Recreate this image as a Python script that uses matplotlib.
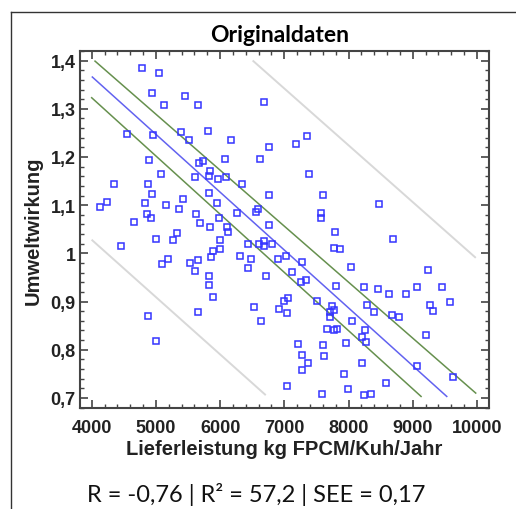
import matplotlib
matplotlib.use("Agg")
from matplotlib import pyplot as plt
from matplotlib.lines import Line2D
from matplotlib.ticker import MultipleLocator, FuncFormatter
import numpy as np

# Lieferleistung (kg FPCM/Kuh/Jahr) and Umweltwirkung
milk = [4784, 5044, 4935, 5454, 5661, 5132, 6679, 4550, 4950, 5391,
        5516, 5807, 6165, 7349, 7188, 6767, 4893, 5672, 5734, 6077,
        6622, 5085, 7390, 5838, 5604, 5822, 5968, 6098, 6336, 4348,
        4883, 5822, 4935, 6767, 7603, 4130, 4244, 4826, 5153, 5428,
        5366, 5952, 6259, 8476, 6555, 6591, 4862, 4929, 5625, 5682,
        5989, 4659, 7567, 7567, 6757, 5843, 6113, 6118, 7785, 5334,
        5007, 5262, 6004, 8699, 4462, 6440, 6606, 6679, 6679, 6809,
        7769, 7873, 5994, 5895, 5859, 6316, 6477, 7027, 6902, 5189,
        5090, 5532, 5661, 5604, 6440, 8039, 9244, 5822, 6715, 7115,
        7271, 5822, 7806, 8242, 8465, 8626, 8891, 9062, 9457, 7333,
        7255, 5895, 7063, 7001, 7515, 7749, 8294, 9275, 9581, 9311,
        6529, 6918, 7037, 7707, 7769, 7707, 8403, 8673, 8787, 5656,
        4883, 6638, 8060, 7660, 7769, 7826, 8258, 9202, 8216, 8278,
        5007, 7219, 7603, 7967, 7271, 7624, 7370, 8205, 7271, 7930,
        9073, 9623, 7037, 7988, 8585, 7588, 8242, 8346]
impact = [1.384, 1.374, 1.332, 1.326, 1.307, 1.308, 1.315, 1.248, 1.246, 1.251,
          1.236, 1.253, 1.236, 1.244, 1.226, 1.221, 1.193, 1.187, 1.192, 1.195,
          1.195, 1.165, 1.165, 1.170, 1.159, 1.161, 1.154, 1.159, 1.143, 1.143,
          1.143, 1.126, 1.124, 1.122, 1.122, 1.097, 1.107, 1.105, 1.100, 1.113,
          1.093, 1.105, 1.084, 1.102, 1.086, 1.092, 1.081, 1.074, 1.081, 1.064,
          1.074, 1.066, 1.083, 1.073, 1.059, 1.055, 1.055, 1.044, 1.044, 1.042,
          1.030, 1.027, 1.027, 1.030, 1.015, 1.020, 1.020, 1.025, 1.015, 1.020,
          1.012, 1.010, 1.008, 1.004, 0.993, 0.995, 0.988, 0.995, 0.988, 0.988,
          0.978, 0.979, 0.986, 0.964, 0.969, 0.971, 0.966, 0.954, 0.954, 0.962,
          0.982, 0.935, 0.933, 0.930, 0.925, 0.916, 0.916, 0.930, 0.930, 0.945,
          0.940, 0.910, 0.908, 0.902, 0.902, 0.891, 0.893, 0.893, 0.900, 0.881,
          0.889, 0.884, 0.877, 0.879, 0.882, 0.867, 0.878, 0.872, 0.867, 0.879,
          0.870, 0.860, 0.860, 0.843, 0.841, 0.843, 0.841, 0.831, 0.826, 0.817,
          0.818, 0.812, 0.810, 0.814, 0.788, 0.786, 0.773, 0.773, 0.758, 0.749,
          0.767, 0.743, 0.725, 0.719, 0.731, 0.708, 0.705, 0.709]

# regression line, confidence band (green) and prediction band (grey)
fit_x, fit_y = [4010, 9530], [1.366, 0.703]
conf_up_x, conf_up_y = [4052, 9981], [1.399, 0.710]
conf_lo_x, conf_lo_y = [4000, 9130], [1.323, 0.703]
pred_up_x, pred_up_y = [6518, 9971], [1.399, 0.992]
pred_lo_x, pred_lo_y = [4010, 6700], [1.027, 0.707]

title = "Originaldaten"
xlabel = "Lieferleistung kg FPCM/Kuh/Jahr"
ylabel = "Umweltwirkung"
stats = "R = -0,76 | R² = 57,2 | SEE = 0,17"

fig = plt.figure(figsize=(5.16, 5.10), dpi=100)
ax = fig.add_axes([80 / 516, 1 - 409 / 510, 409 / 516, 357 / 510])

ax.plot(pred_up_x, pred_up_y, color="#d8d8d8", lw=1.4)
ax.plot(pred_lo_x, pred_lo_y, color="#d8d8d8", lw=1.4)
ax.plot(conf_up_x, conf_up_y, color="#66904e", lw=1.1)
ax.plot(conf_lo_x, conf_lo_y, color="#66904e", lw=1.1)
ax.plot(fit_x, fit_y, color="#6262f0", lw=1.1)
ax.plot(milk, impact, ls="none", marker="s", ms=3.8, mfc="none",
        mec="#3434ff", mew=1.1)

ax.set_xlim(3818, 10188)
ax.set_ylim(0.679, 1.42)
ax.xaxis.set_major_locator(MultipleLocator(1000))
ax.xaxis.set_minor_locator(MultipleLocator(200))
ax.yaxis.set_major_locator(MultipleLocator(0.1))
ax.yaxis.set_minor_locator(MultipleLocator(0.02))


def comma(v, pos):
    s = "%.1f" % v
    if s.endswith(".0"):
        s = s[:-2]
    return s.replace(".", ",")


ax.yaxis.set_major_formatter(FuncFormatter(comma))
ax.tick_params(which="both", direction="in", top=True, right=True,
               color="#444444")
ax.tick_params(which="major", length=5.5, width=1.2)
ax.tick_params(which="minor", length=3, width=1.0)
ax.tick_params(axis="x", which="major", pad=8)
ax.tick_params(axis="y", which="major", pad=3)
for spine in ax.spines.values():
    spine.set_color("#444444")
    spine.set_linewidth(1.5)

narrow = ["Liberation Sans Narrow", "Liberation Sans"]
for lbl in ax.get_xticklabels() + ax.get_yticklabels():
    lbl.set_fontfamily(narrow)
    lbl.set_fontweight("bold")
    lbl.set_fontsize(13)
    lbl.set_color("#222222")

lab_font = dict(family="Liberation Sans", weight="bold", color="#222222")
ax.set_xlabel(xlabel, fontsize=14.5, labelpad=2, **lab_font)
ax.set_ylabel(ylabel, fontsize=14.5, labelpad=6, **lab_font)

fig.text(280 / 516, 1 - 35 / 510, title, ha="center", va="center",
         fontsize=16.5, fontweight="bold", family="Lato")
fig.text(256 / 516, 1 - 495 / 510, stats, ha="center", va="center",
         fontsize=17, family="Lato", color="#111111")

# outer frame around the panel
fig.add_artist(Line2D([11 / 516, 11 / 516], [0, 1 - 13 / 510],
                      color="#333333", lw=1.0))
fig.add_artist(Line2D([11 / 516, 1], [1 - 13 / 510, 1 - 13 / 510],
                      color="#333333", lw=1.0))

fig.savefig("out.png", dpi=100)
